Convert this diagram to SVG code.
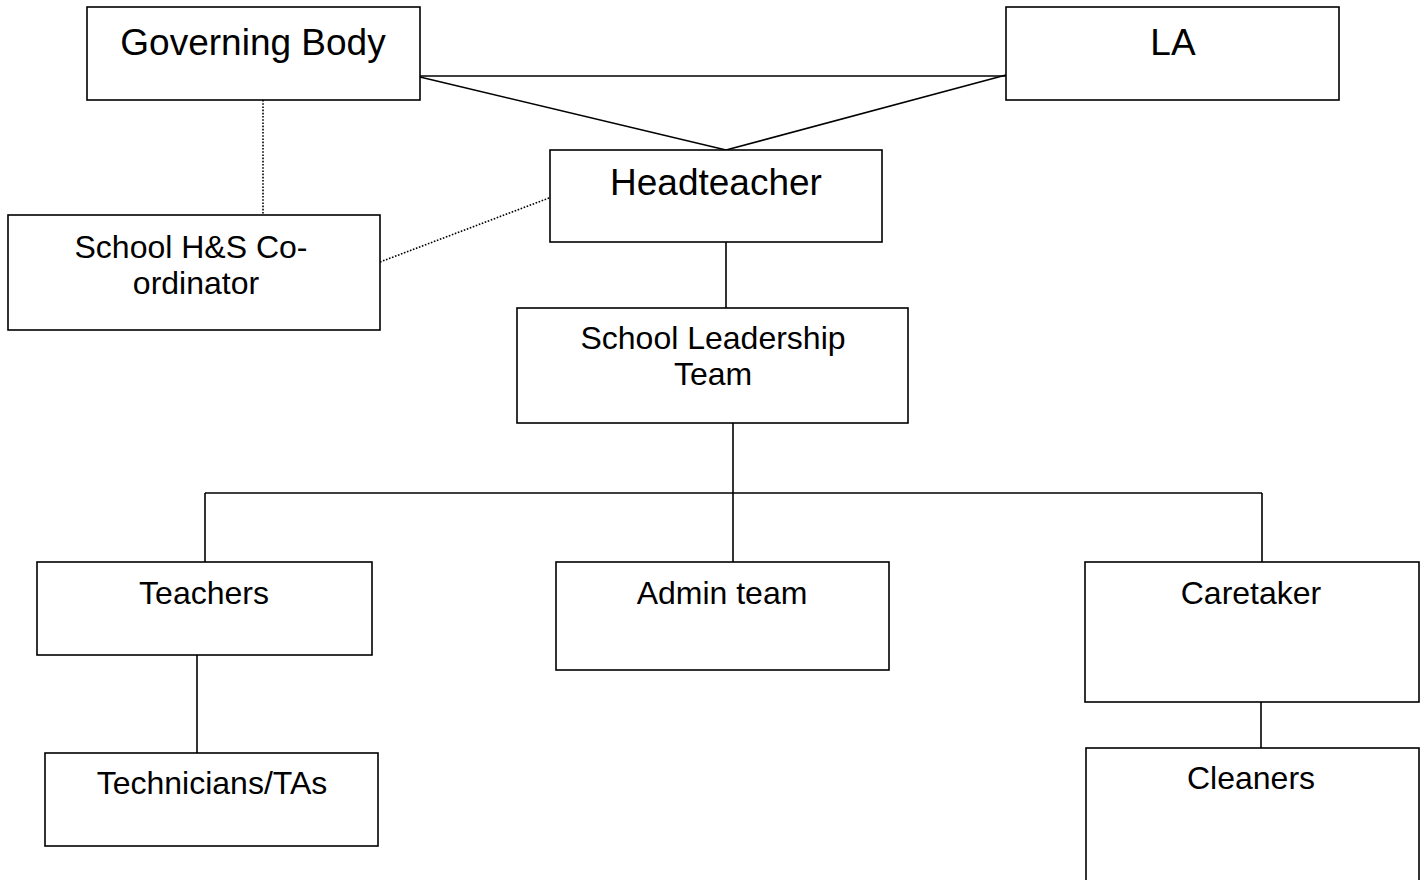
<svg xmlns="http://www.w3.org/2000/svg" width="1424" height="880" viewBox="0 0 1424 880">
<style>
.box{fill:#fff;stroke:#000;stroke-width:1.6}
.ln{fill:none;stroke:#000;stroke-width:1.6}
.dot{fill:none;stroke:#000;stroke-width:1.6;stroke-dasharray:1.6 1.6}
.t{font-family:"Liberation Sans",Arial,sans-serif;fill:#000;text-anchor:middle}
.big{font-size:37px}
.sm{font-size:32px}
</style>
<rect width="1424" height="880" fill="#fff"/>
<g id="connectors">
<line class="ln" x1="420" y1="76" x2="1006" y2="76"/>
<line class="ln" x1="420" y1="77" x2="726" y2="150"/>
<line class="ln" x1="1006" y1="75" x2="726" y2="150"/>
<line class="dot" x1="263" y1="100" x2="263" y2="215"/>
<line class="dot" x1="380" y1="262" x2="557" y2="195"/>
<line class="ln" x1="726" y1="242" x2="726" y2="308"/>
<line class="ln" x1="733" y1="423" x2="733" y2="562"/>
<line class="ln" x1="205" y1="493" x2="1262" y2="493"/>
<line class="ln" x1="205" y1="493" x2="205" y2="562"/>
<line class="ln" x1="1262" y1="493" x2="1262" y2="562"/>
<line class="ln" x1="197" y1="655" x2="197" y2="753"/>
<line class="ln" x1="1261" y1="702" x2="1261" y2="748"/>
</g>
<g id="governing-body">
<rect class="box" x="87" y="7" width="333" height="93"/>
<text class="t big" x="253" y="55">Governing Body</text>
</g>
<g id="la">
<rect class="box" x="1006" y="7" width="333" height="93"/>
<text class="t big" x="1173" y="55">LA</text>
</g>
<g id="headteacher">
<rect class="box" x="550" y="150" width="332" height="92"/>
<text class="t big" x="716" y="195">Headteacher</text>
</g>
<g id="hs-coordinator">
<rect class="box" x="8" y="215" width="372" height="115"/>
<text class="t sm" x="191" y="258">School H&amp;S Co-</text>
<text class="t sm" x="196" y="294">ordinator</text>
</g>
<g id="slt">
<rect class="box" x="517" y="308" width="391" height="115"/>
<text class="t sm" x="713" y="349">School Leadership</text>
<text class="t sm" x="713" y="385">Team</text>
</g>
<g id="teachers">
<rect class="box" x="37" y="562" width="335" height="93"/>
<text class="t sm" x="204" y="604">Teachers</text>
</g>
<g id="admin-team">
<rect class="box" x="556" y="562" width="333" height="108"/>
<text class="t sm" x="722" y="604">Admin team</text>
</g>
<g id="caretaker">
<rect class="box" x="1085" y="562" width="334" height="140"/>
<text class="t sm" x="1251" y="604">Caretaker</text>
</g>
<g id="technicians">
<rect class="box" x="45" y="753" width="333" height="93"/>
<text class="t sm" x="212" y="794">Technicians/TAs</text>
</g>
<g id="cleaners">
<rect class="box" x="1086" y="748" width="333" height="140"/>
<text class="t sm" x="1251" y="789">Cleaners</text>
</g>
</svg>
